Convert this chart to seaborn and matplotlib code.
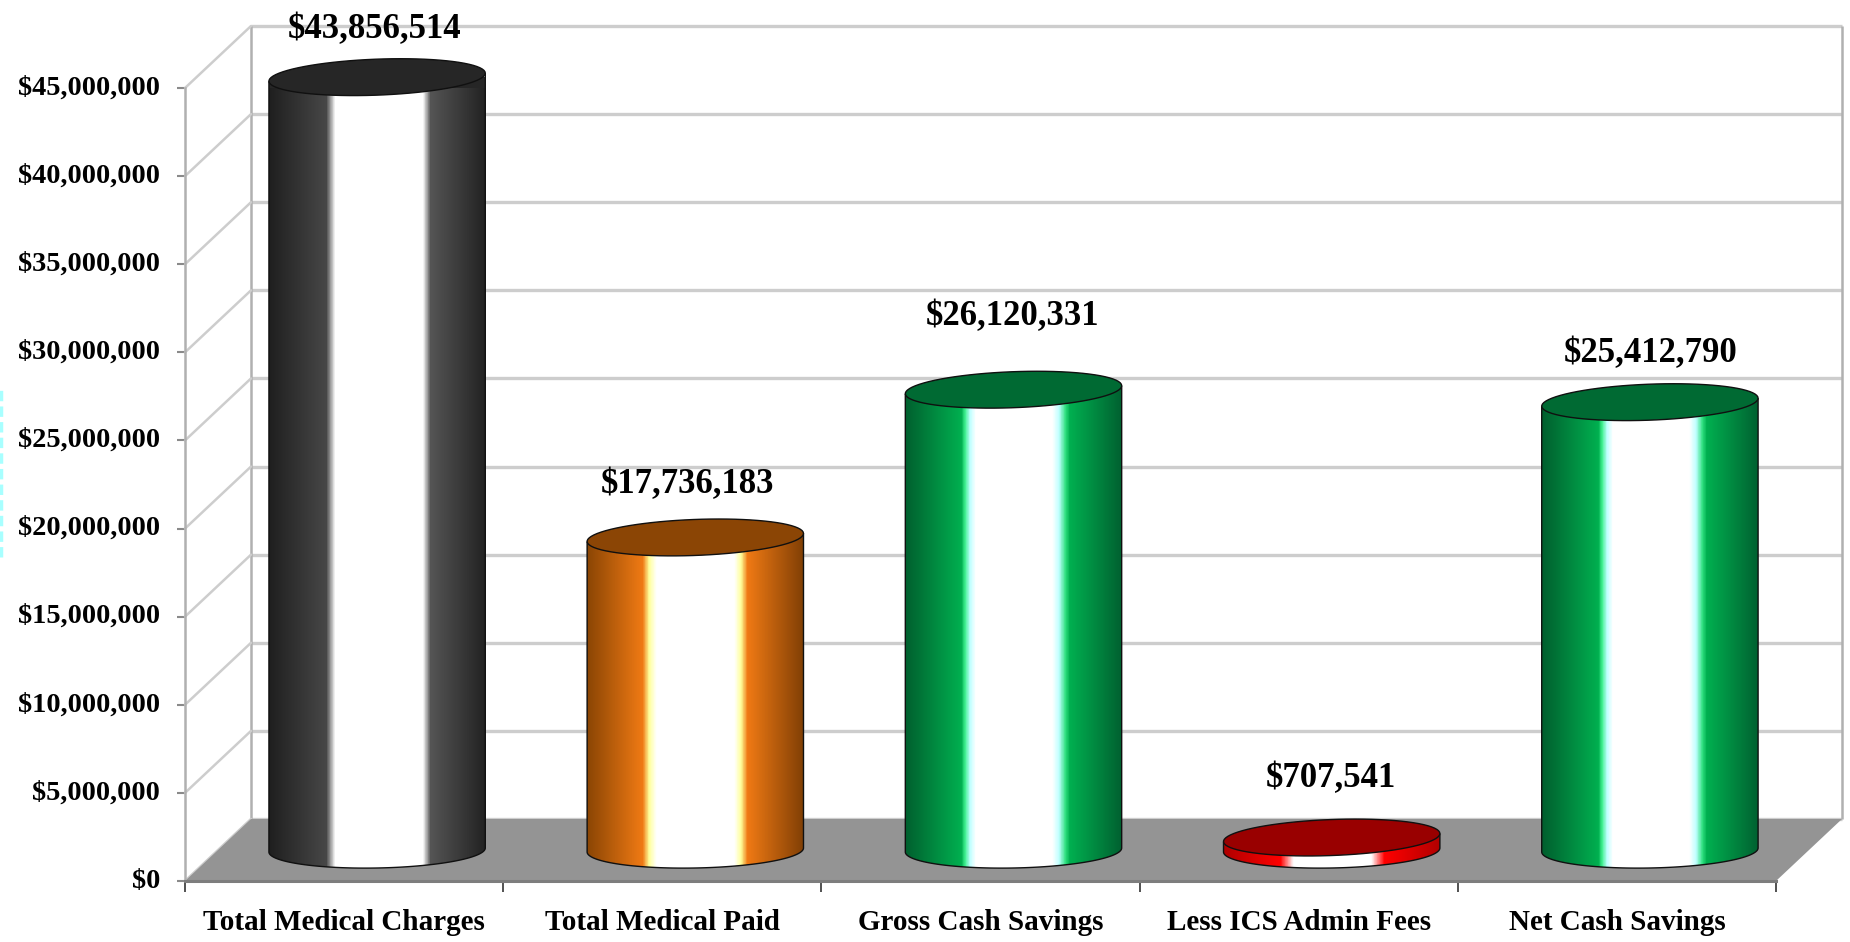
# 3D-look cylinder bar chart: medical charges vs savings

import numpy as np
import matplotlib
matplotlib.use("Agg")
import matplotlib.pyplot as plt
import seaborn as sns
from matplotlib.colors import LinearSegmentedColormap
from matplotlib.patches import PathPatch, Polygon
from matplotlib.path import Path
from matplotlib.transforms import Affine2D, IdentityTransform

categories = ["Total Medical Charges", "Total Medical Paid", "Gross Cash Savings",
              "Less ICS Admin Fees", "Net Cash Savings"]
values     = [43856514, 17736183, 26120331, 707541, 25412790]
y_ticks    = [0, 5000000, 10000000, 15000000, 20000000, 25000000,
              30000000, 35000000, 40000000, 45000000]

cap_colors = ["#262626", "#8b4505", "#006a33", "#990000", "#006a33"]

# horizontal shading of each cylinder, (position, colour)
shades = [
    [(0, "#1f1f1f"), (0.265, "#474747"), (0.305, "#ffffff"), (0.71, "#ffffff"), (0.745, "#555555"), (1, "#222222")],
    [(0, "#8a4504"), (0.257, "#f07a14"), (0.286, "#ffff9a"), (0.32, "#ffffff"), (0.68, "#ffffff"),
     (0.71, "#ffff9a"), (0.74, "#f07a14"), (1, "#803f05")],
    [(0, "#005f2e"), (0.26, "#00b050"), (0.277, "#40f090"), (0.30, "#c0ffff"), (0.326, "#ffffff"),
     (0.68, "#ffffff"), (0.71, "#c0ffff"), (0.74, "#30e080"), (0.76, "#00b050"), (1, "#006030")],
    [(0, "#b00000"), (0.26, "#ff0000"), (0.32, "#ffffff"), (0.68, "#ffffff"), (0.74, "#ff0000"), (1, "#b00000")],
    [(0, "#005f2e"), (0.26, "#00b050"), (0.277, "#40f090"), (0.30, "#c0ffff"), (0.326, "#ffffff"),
     (0.68, "#ffffff"), (0.71, "#c0ffff"), (0.74, "#30e080"), (0.76, "#00b050"), (1, "#006030")],
]

# gap (px) from cap centre to the value label, and sideways nudge
label_gap  = [48, 53, 73, 59, 49]
label_side = [-3, -8, -1, -1, 1]

DEPTH_X, DEPTH_Y = 66, 62   # px, front plane to back wall
ELL_B = 18                  # px, cylinder ellipse
TILT_TOP, TILT_BASE = 4, 2

sns.set_theme(style="white")
plt.rcParams["font.family"] = ["Liberation Serif", "DejaVu Serif"]

fig = plt.figure(figsize=(18.5, 9.42), dpi=100)
ax = fig.add_axes([185/1850, (942-881)/942, (1776-185)/1850, (881-88)/942])
ax.patch.set_alpha(0)

# ── Bars ──────────────────────────────────────────────────────
sns.barplot(x=categories, y=values, hue=categories, palette=cap_colors,
            width=0.68, legend=False, dodge=False, ax=ax, zorder=2)
ax.set_xlim(-0.5, 4.5)
ax.set_ylim(0, 45000000)

mid_shift  = ax.transData + Affine2D().translate(DEPTH_X/2, DEPTH_Y/2)
back_shift = ax.transData + Affine2D().translate(DEPTH_X, DEPTH_Y)
px = IdentityTransform()

# ── Walls and floor ───────────────────────────────────────────
wall = "#cdcdcd"
ax.hlines(y_ticks, -0.5, 4.5, transform=back_shift, color=wall, lw=2.4, zorder=0.5, clip_on=False)
ax.vlines([-0.5, 4.5], 0, 45000000, transform=back_shift, color="#b0b0b0", lw=1.8, zorder=0.55, clip_on=False)
for t in y_ticks:
    x0, y0 = ax.transData.transform((-0.5, t))
    ax.plot([x0, x0 + DEPTH_X], [y0, y0 + DEPTH_Y], transform=px, color=wall, lw=1.8,
            zorder=0.6, clip_on=False)

floor = [ax.transData.transform((-0.5, 0)), ax.transData.transform((4.5, 0)),
         back_shift.transform((4.5, 0)), back_shift.transform((-0.5, 0))]
ax.add_patch(Polygon(floor, closed=True, transform=px, facecolor="#949494", edgecolor="none",
                     zorder=1, clip_on=False))

# ── Cylinders ─────────────────────────────────────────────────
def ring(cx, cy, a, tilt, t0, t1, n=80):
    t = np.linspace(t0, t1, n)
    return np.column_stack([cx + a*np.cos(t), cy + ELL_B*np.sin(t) + tilt*np.cos(t)])

for i, (bar, val) in enumerate(zip(ax.patches, values)):
    x, w = bar.get_x(), bar.get_width()
    left, base = mid_shift.transform((x, 0))
    right, top = mid_shift.transform((x + w, val))
    cx, a = (left + right)/2, (right - left)/2

    lower = ring(cx, base, a, TILT_BASE, np.pi, 2*np.pi)
    body_xy = np.vstack([[cx - a, top - TILT_TOP], lower, [cx + a, top + TILT_TOP]])
    body = Path(np.vstack([body_xy, body_xy[0]]), closed=True)

    bar.set_transform(mid_shift)
    bar.set_linewidth(0)
    bar.set_clip_box(None)
    bar.set_clip_path(body, px)

    cmap = LinearSegmentedColormap.from_list(f"cyl{i}", shades[i], N=512)
    im = ax.imshow(np.linspace(0, 1, 512)[None, :], cmap=cmap, aspect="auto",
                   extent=(x, x + w, -2000000, val + 2000000), transform=mid_shift,
                   interpolation="nearest", zorder=3)
    im.set_clip_box(None)
    im.set_clip_path(body, px)

    ax.add_patch(PathPatch(Path(body_xy), transform=px, fill=False, edgecolor="#101010",
                           lw=1.0, zorder=4, clip_on=False))
    ax.add_patch(Polygon(ring(cx, top, a, TILT_TOP, 0, 2*np.pi), closed=True, transform=px,
                         facecolor=cap_colors[i], edgecolor="#101010", lw=1.0,
                         zorder=5, clip_on=False))

    ax.annotate(f"${val:,.0f}", xy=(cx + label_side[i], top + label_gap[i]), xycoords=px,
                ha="center", va="center", fontsize=25, fontweight="bold", color="black",
                zorder=6, annotation_clip=False)

ax.set_xlim(-0.5, 4.5)
ax.set_ylim(0, 45000000)

# ── Axes ──────────────────────────────────────────────────────
sns.despine(ax=ax, top=True, right=True)
ax.spines["left"].set_color("#b0b0b0")
ax.spines["left"].set_linewidth(1.8)
ax.spines["bottom"].set_color("#7d7d7d")
ax.spines["bottom"].set_linewidth(2.2)

ax.set_yticks(y_ticks)
ax.set_yticklabels([f"${t:,.0f}" for t in y_ticks], fontsize=20.4, fontweight="bold", color="black")
for lab in ax.get_yticklabels():
    lab.set_va("center")
ax.tick_params(axis="y", length=6, width=1.5, color="#8a8a8a", pad=12, left=True)

ax.set_xticks(range(len(categories)))
ax.set_xticklabels(categories, fontsize=21, fontweight="bold", color="black")
ax.set_xticks(np.arange(-0.5, 5), minor=True)
ax.tick_params(axis="x", which="major", length=0, pad=20, bottom=False)
ax.tick_params(axis="x", which="minor", length=8, width=1.2, color="#333333", bottom=True)

# faint cyan remains of a cropped label at the left edge
fig.add_artist(plt.Line2D([1, 1], [942-557, 942-387], transform=px, color="#a8ffff", lw=2.5,
                          linestyle=(0, (3, 1.5))))

fig.savefig("out.png", dpi=100, facecolor="white")
